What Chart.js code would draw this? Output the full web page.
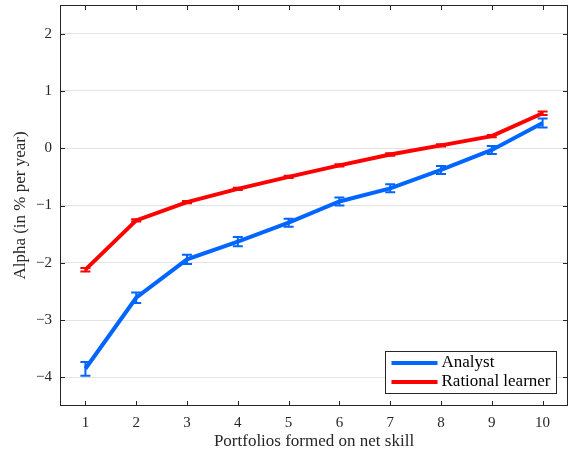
<!DOCTYPE html>
<html>
<head>
<meta charset="utf-8">
<script src="https://cdn.jsdelivr.net/npm/chart.js@4"></script>
<style>
  html, body { margin: 0; padding: 0; background: #fff; }
  #wrap { width: 568px; height: 456px; }
</style>
</head>
<body>
<div id="wrap"><canvas id="alpha-chart" width="568" height="456"></canvas></div>
<script>
// portfolio numbers on the x axis
const portfolios = [1, 2, 3, 4, 5, 6, 7, 8, 9, 10];
// alpha in % per year
const analystAlpha = [-3.85, -2.61, -1.94, -1.63, -1.30, -0.93, -0.70, -0.38, -0.03, 0.44];
const analystErr   = [0.12, 0.09, 0.08, 0.08, 0.07, 0.07, 0.07, 0.07, 0.07, 0.08];
const learnerAlpha = [-2.12, -1.26, -0.94, -0.71, -0.50, -0.30, -0.11, 0.05, 0.21, 0.61];
const learnerErr   = [0.03, 0.02, 0.02, 0.02, 0.02, 0.02, 0.02, 0.02, 0.02, 0.03];
const yTicks = [-4, -3, -2, -1, 0, 1, 2];

const FONT = "'Liberation Serif', 'DejaVu Serif', serif";
const INK = '#262626';
const BLUE = '#0066ff';
const RED = '#ff0000';

function toPoints(vals){
    return portfolios.map((p, i) => ({x: p, y: vals[i]}));
}

// error bars, inward ticks, box frame and the legend box
const extrasPlugin = {
    id: 'extras',
    afterDatasetsDraw(chart){
        const ctx = chart.ctx;
        const xs = chart.scales.x, ys = chart.scales.y;
        chart.data.datasets.forEach(ds => {
            ctx.save();
            ctx.strokeStyle = ds.borderColor;
            ctx.lineWidth = 2;
            ds.data.forEach((pt, i) => {
                const px = xs.getPixelForValue(pt.x);
                const top = ys.getPixelForValue(pt.y + ds.errs[i]);
                const bot = ys.getPixelForValue(pt.y - ds.errs[i]);
                ctx.beginPath();
                ctx.moveTo(px, top); ctx.lineTo(px, bot);
                ctx.moveTo(px - 5, top); ctx.lineTo(px + 5, top);
                ctx.moveTo(px - 5, bot); ctx.lineTo(px + 5, bot);
                ctx.stroke();
            });
            ctx.restore();
        });
    },
    afterDraw(chart){
        const ctx = chart.ctx;
        const a = chart.chartArea;
        const xs = chart.scales.x, ys = chart.scales.y;
        ctx.save();
        ctx.strokeStyle = INK;
        ctx.lineWidth = 1;
        ctx.strokeRect(Math.round(a.left) + 0.5, Math.round(a.top) + 0.5,
                       Math.round(a.right - a.left) - 1, Math.round(a.bottom - a.top) - 1);
        ctx.beginPath();
        portfolios.forEach(p => {
            const px = Math.round(xs.getPixelForValue(p)) + 0.5;
            ctx.moveTo(px, a.bottom); ctx.lineTo(px, a.bottom - 5);
            ctx.moveTo(px, a.top); ctx.lineTo(px, a.top + 5);
        });
        yTicks.forEach(v => {
            const py = Math.round(ys.getPixelForValue(v)) + 0.5;
            ctx.moveTo(a.left, py); ctx.lineTo(a.left + 5, py);
            ctx.moveTo(a.right, py); ctx.lineTo(a.right - 5, py);
        });
        ctx.stroke();

        // legend box in the lower right corner
        const bx = 385.5, by = 351.5, bw = 171, bh = 42;
        ctx.fillStyle = '#fff';
        ctx.fillRect(bx, by, bw, bh);
        ctx.strokeRect(bx, by, bw, bh);
        ctx.font = '17px ' + FONT;
        ctx.textBaseline = 'middle';
        chart.data.datasets.forEach((ds, i) => {
            const ly = by + 11.5 + i * 19;
            ctx.strokeStyle = ds.borderColor;
            ctx.lineWidth = 4;
            ctx.beginPath();
            ctx.moveTo(bx + 6, ly); ctx.lineTo(bx + 52, ly);
            ctx.stroke();
            ctx.fillStyle = '#000';
            ctx.fillText(ds.label, bx + 56, ly);
        });
        ctx.restore();
    }
};

function minusSign(v){
    return String(v).replace('-', '\u2212');
}

new Chart(document.getElementById('alpha-chart'), {
    type: 'line',
    data: {
        datasets: [
            {label: 'Analyst', data: toPoints(analystAlpha), errs: analystErr,
             borderColor: BLUE, borderWidth: 4, pointRadius: 0, tension: 0},
            {label: 'Rational learner', data: toPoints(learnerAlpha), errs: learnerErr,
             borderColor: RED, borderWidth: 4, pointRadius: 0, tension: 0}
        ]
    },
    options: {
        responsive: false,
        animation: false,
        layout: {padding: {left: 6, top: 5, right: -5, bottom: 0}},
        plugins: {legend: {display: false}, tooltip: {enabled: false}},
        scales: {
            x: {
                type: 'linear', min: 0.5, max: 10.5,
                afterBuildTicks: s => { s.ticks = portfolios.map(v => ({value: v})); },
                afterFit: s => { s.height = 50; s.paddingLeft = 0; s.paddingRight = 0; },
                grid: {display: false, drawTicks: false},
                border: {display: false},
                ticks: {color: INK, font: {family: FONT, size: 15}, padding: 8, maxRotation: 0},
                title: {display: true, text: 'Portfolios formed on net skill', color: INK,
                        font: {family: FONT, size: 17}, padding: {top: 2}}
            },
            y: {
                type: 'linear', min: -4.5, max: 2.5,
                afterBuildTicks: s => { s.ticks = yTicks.map(v => ({value: v})); },
                afterFit: s => { s.width = 54; s.paddingTop = 0; s.paddingBottom = 0; },
                grid: {color: '#e3e3e3', drawTicks: false},
                border: {display: false},
                ticks: {color: INK, font: {family: FONT, size: 15}, padding: 8, callback: minusSign},
                title: {display: true, text: 'Alpha (in % per year)', color: INK,
                        font: {family: FONT, size: 17}, padding: {bottom: 0}}
            }
        }
    },
    plugins: [extrasPlugin]
});
</script>
</body>
</html>
